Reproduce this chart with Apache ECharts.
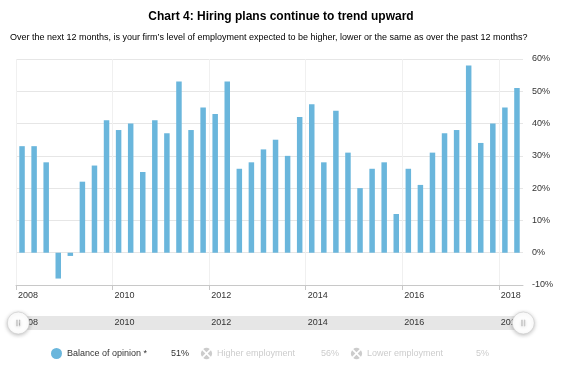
<!DOCTYPE html>
<html>
<head>
<meta charset="utf-8">
<script src="https://cdn.jsdelivr.net/npm/echarts@6/dist/echarts.min.js"></script>
<style>
  html, body { margin: 0; padding: 0; background: #fff; }
  #chart { width: 562px; height: 375px; }
</style>
</head>
<body>
<div id="chart"></div>
<script>
const quarters = [
  '2008 Q1', '2008 Q2', '2008 Q3', '2008 Q4', '2009 Q1', '2009 Q2', '2009 Q3', '2009 Q4',
  '2010 Q1', '2010 Q2', '2010 Q3', '2010 Q4', '2011 Q1', '2011 Q2', '2011 Q3', '2011 Q4',
  '2012 Q1', '2012 Q2', '2012 Q3', '2012 Q4', '2013 Q1', '2013 Q2', '2013 Q3', '2013 Q4',
  '2014 Q1', '2014 Q2', '2014 Q3', '2014 Q4', '2015 Q1', '2015 Q2', '2015 Q3', '2015 Q4',
  '2016 Q1', '2016 Q2', '2016 Q3', '2016 Q4', '2017 Q1', '2017 Q2', '2017 Q3', '2017 Q4',
  '2018 Q1', '2018 Q2'
]
const balance = [
  33, 33, 28, -8, -1, 22, 27, 41, 38, 40, 25, 41, 37, 53, 38, 45, 43, 53, 26, 28, 32,
  35, 30, 42, 46, 28, 44, 31, 20, 26, 28, 12, 26, 21, 31, 37, 38, 58, 34, 40, 45, 51
]
// only the latest readings of these two are visible (legend), series are switched off
const higherLatest = 56
const lowerLatest = 5
const yearTicks = [2008, 2010, 2012, 2014, 2016, 2018]

const names = ['Balance of opinion *', 'Higher employment', 'Lower employment']
const latest = {
  'Balance of opinion *': balance[balance.length - 1],
  'Higher employment': higherLatest,
  'Lower employment': lowerLatest
}

// quarter -> position on a decimal-year axis (middle of the quarter)
function qPos(label) {
  const [y, q] = label.split(' Q')
  return Number(y) + (Number(q) - 1) / 4 + 0.125
}
const lastQ = quarters[quarters.length - 1]

const crossIcon = 'path://M10 7.9L4.06 1.96A10 10 0 0 1 15.94 1.96Z' +
  'M12.1 10L18.04 4.06A10 10 0 0 1 18.04 15.94Z' +
  'M10 12.1L15.94 18.04A10 10 0 0 1 4.06 18.04Z' +
  'M7.9 10L1.96 15.94A10 10 0 0 1 1.96 4.06Z'
const handleIcon = 'path://M0 10A10 10 0 1 1 20 10A10 10 0 1 1 0 10Z' +
  'M8.5 7.2L8.5 12.8L9.1 12.8L9.1 7.2Z' +
  'M10.9 7.2L10.9 12.8L11.5 12.8L11.5 7.2Z'

const font = 'Liberation Sans, Arial, sans-serif'
const yearLabel = {
  customValues: yearTicks,
  formatter: v => (Number.isInteger(v) && v % 2 === 0 ? String(v) : ''),
  align: 'left',
  padding: [0, 0, 0, 2],
  color: '#333',
  fontSize: 9,
  fontFamily: font
}

const chart = echarts.init(document.getElementById('chart'))
chart.setOption({
  animation: false,
  textStyle: { fontFamily: font },
  title: [
    {
      text: 'Chart 4: Hiring plans continue to trend upward',
      left: 'center',
      top: 6,
      textStyle: { fontSize: 12, fontWeight: 'bold', color: '#000', fontFamily: font }
    },
    {
      text: 'Over the next 12 months, is your firm\u2019s level of employment expected to be higher, lower or the same as over the past 12 months?',
      left: 5,
      top: 28,
      textStyle: { fontSize: 9, fontWeight: 'normal', color: '#000', fontFamily: font }
    }
  ],
  legend: {
    left: 46,
    top: 343,
    itemWidth: 11,
    itemHeight: 11,
    itemGap: 12,
    inactiveColor: '#ccc',
    selected: { 'Higher employment': false, 'Lower employment': false },
    data: [
      { name: names[0], icon: 'circle' },
      { name: names[1], icon: crossIcon },
      { name: names[2], icon: crossIcon }
    ],
    formatter: n => '{n|' + n + '}{v|' + latest[n] + '%}',
    textStyle: {
      fontSize: 9,
      color: '#333',
      fontFamily: font,
      rich: {
        n: { width: 100, align: 'left', fontSize: 9, fontFamily: font },
        v: { width: 22, align: 'right', fontSize: 9, fontFamily: font }
      }
    }
  },
  grid: [
    { left: 16, right: 39, top: 59, bottom: 90 },
    { left: 16, right: 39, top: 316, height: 14, show: true, backgroundColor: '#e6e6e6', borderWidth: 0 }
  ],
  xAxis: [
    {
      type: 'value',
      gridIndex: 0,
      min: 2008,
      max: 2018.5,
      interval: 1,
      axisLine: { onZero: false, lineStyle: { color: '#c8c8c8' } },
      axisTick: { customValues: yearTicks, length: 5, lineStyle: { color: '#c8c8c8' } },
      axisLabel: Object.assign({ margin: 6 }, yearLabel),
      splitLine: { show: true, lineStyle: { color: '#f0f0f0' } }
    },
    {
      type: 'value',
      gridIndex: 1,
      position: 'top',
      min: 2008,
      max: 2018.5,
      interval: 1,
      axisLine: { show: false, onZero: false },
      axisTick: { show: false },
      axisLabel: Object.assign({ inside: true, margin: 7, verticalAlign: 'middle' }, yearLabel),
      splitLine: { show: false }
    }
  ],
  yAxis: [
    {
      type: 'value',
      gridIndex: 0,
      position: 'right',
      min: -10,
      max: 60,
      interval: 10,
      axisLine: { show: false },
      axisTick: { show: false },
      axisLabel: { formatter: '{value}%', margin: 9, color: '#333', fontSize: 9, fontFamily: font },
      splitLine: { lineStyle: { color: '#e6e6e6' } }
    },
    {
      type: 'value',
      gridIndex: 1,
      show: false,
      min: 0,
      max: 1
    }
  ],
  dataZoom: [
    {
      type: 'slider',
      xAxisIndex: [0],
      start: 0,
      end: 100,
      left: 16,
      right: 39,
      top: 316,
      height: 14,
      backgroundColor: 'rgba(0,0,0,0)',
      fillerColor: 'rgba(0,0,0,0)',
      borderColor: 'rgba(0,0,0,0)',
      showDataShadow: false,
      showDetail: false,
      brushSelect: false,
      moveHandleSize: 0,
      handleIcon: handleIcon,
      handleSize: 22,
      handleStyle: {
        color: '#fff',
        borderColor: '#c8c8c8',
        borderWidth: 0.6,
        shadowBlur: 4,
        shadowColor: 'rgba(0,0,0,0.25)',
        shadowOffsetY: 1
      },
      emphasis: { handleStyle: { borderColor: '#c8c8c8' } }
    }
  ],
  series: [
    {
      name: names[0],
      type: 'bar',
      barWidth: 5.5,
      itemStyle: { color: '#6ab6dc' },
      data: quarters.map((q, i) => [qPos(q), balance[i]])
    },
    {
      name: names[1],
      type: 'line',
      itemStyle: { color: '#2e6f9e' },
      data: [[qPos(lastQ), higherLatest]]
    },
    {
      name: names[2],
      type: 'line',
      itemStyle: { color: '#d9534f' },
      data: [[qPos(lastQ), lowerLatest]]
    }
  ]
})
</script>
</body>
</html>
